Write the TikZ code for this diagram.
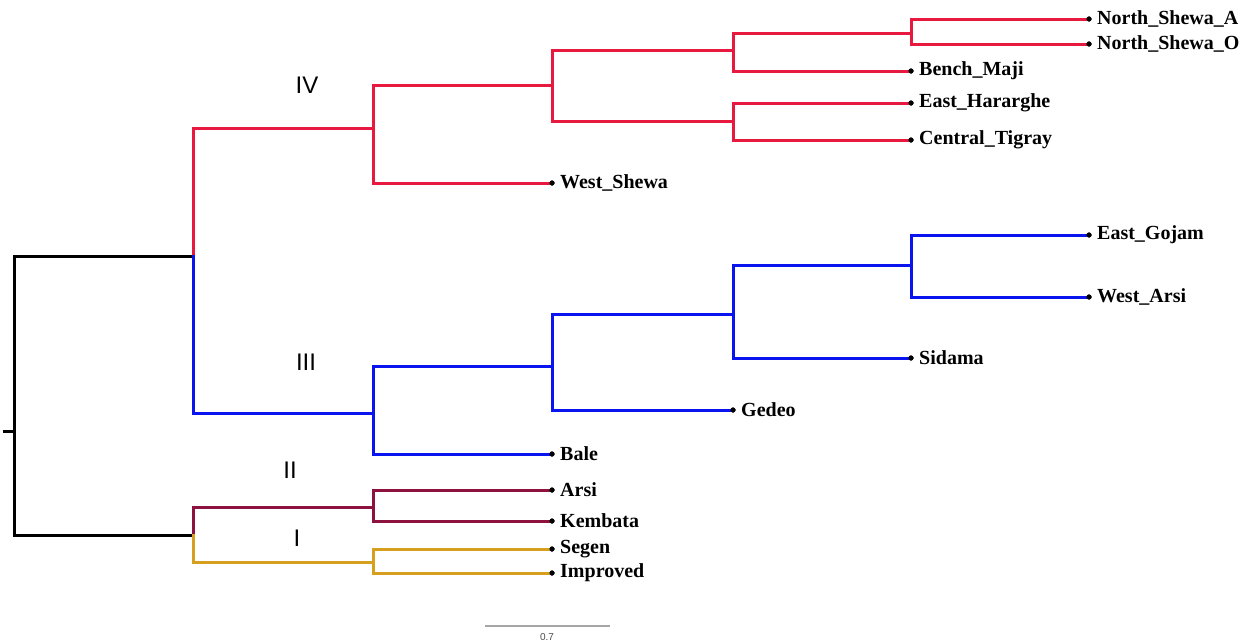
\documentclass[tikz,border=0pt]{standalone}
\usepackage{fontspec}
\setmainfont{Liberation Serif}
\newfontfamily\numfont{Liberation Sans}
\definecolor{cred}{HTML}{E8193F}
\definecolor{cblue}{HTML}{0A14EE}
\definecolor{cmaroon}{HTML}{8E1240}
\definecolor{cgold}{HTML}{D6A01E}
\tikzset{
  br/.style={line width=3pt, line join=miter, line cap=rect},
  tip/.style={circle, fill=black, inner sep=0pt, minimum size=5pt},
  leaf/.style={anchor=west, inner sep=0pt, font=\fontsize{20}{20}\selectfont\bfseries},
  clade/.style={font=\numfont\fontsize{24}{24}\selectfont},
  int/.style={coordinate}
}
\begin{document}
\begin{tikzpicture}[x=1pt,y=-1pt]
\useasboundingbox (0,0) rectangle (1252,643);
% internal nodes
\coordinate (root) at (14,431);
\coordinate (rtick) at (4,431);
\coordinate (nA) at (193,256);
\coordinate (nB) at (193,535);
\coordinate (n4) at (373,128);
\coordinate (n4a) at (552,85);
\coordinate (n4b) at (733,50);
\coordinate (n4c) at (911,33);
\coordinate (n4d) at (733,121);
\coordinate (n3) at (373,413);
\coordinate (n3a) at (552,366);
\coordinate (n3b) at (733,314);
\coordinate (n3c) at (911,265);
\coordinate (n2) at (373,507);
\coordinate (n1) at (373,562);
% tips
\node[tip] (NSA) at (1089,19) {};
\node[tip] (NSO) at (1089,44) {};
\node[tip] (BM) at (911,71) {};
\node[tip] (EH) at (911,103) {};
\node[tip] (CT) at (911,140) {};
\node[tip] (WS) at (552,183) {};
\node[tip] (EG) at (1089,235) {};
\node[tip] (WA) at (1089,297) {};
\node[tip] (SI) at (911,358) {};
\node[tip] (GE) at (733,410) {};
\node[tip] (BA) at (552,454) {};
\node[tip] (AR) at (552,490) {};
\node[tip] (KE) at (552,521) {};
\node[tip] (SE) at (552,549) {};
\node[tip] (IM) at (552,573) {};
% labels
\node[leaf] (lNSA) at ([xshift=8pt]NSA.center) {North\_Shewa\_A};
\node[leaf] (lNSO) at ([xshift=8pt]NSO.center) {North\_Shewa\_O};
\node[leaf] (lBM) at ([xshift=8pt]BM.center) {Bench\_Maji};
\node[leaf] (lEH) at ([xshift=8pt]EH.center) {East\_Hararghe};
\node[leaf] (lCT) at ([xshift=8pt]CT.center) {Central\_Tigray};
\node[leaf] (lWS) at ([xshift=8pt]WS.center) {West\_Shewa};
\node[leaf] (lEG) at ([xshift=8pt]EG.center) {East\_Gojam};
\node[leaf] (lWA) at ([xshift=8pt]WA.center) {West\_Arsi};
\node[leaf] (lSI) at ([xshift=8pt]SI.center) {Sidama};
\node[leaf] (lGE) at ([xshift=8pt]GE.center) {Gedeo};
\node[leaf] (lBA) at ([xshift=8pt]BA.center) {Bale};
\node[leaf] (lAR) at ([xshift=8pt]AR.center) {Arsi};
\node[leaf] (lKE) at ([xshift=8pt]KE.center) {Kembata};
\node[leaf] (lSE) at ([xshift=8pt]SE.center) {Segen};
\node[leaf] (lIM) at ([xshift=8pt]IM.center) {Improved};
% root (black)
\draw[br, black] (rtick) -- (root);
\draw[br, black] (nA) -| (root) |- (nB);
% clade IV (red)
\draw[br, cred] (nA) |- (n4);
\draw[br, cred] (n4a) -| (n4) |- (WS.center);
\draw[br, cred] (n4b) -| (n4a) |- (n4d);
\draw[br, cred] (n4c) -| (n4b) |- (BM.center);
\draw[br, cred] (NSA.center) -| (n4c) |- (NSO.center);
\draw[br, cred] (EH.center) -| (n4d) |- (CT.center);
% clade III (blue)
\draw[br, cblue] (nA) |- (n3);
\draw[br, cblue] (n3a) -| (n3) |- (BA.center);
\draw[br, cblue] (n3b) -| (n3a) |- (GE.center);
\draw[br, cblue] (n3c) -| (n3b) |- (SI.center);
\draw[br, cblue] (EG.center) -| (n3c) |- (WA.center);
% clade II (maroon)
\draw[br, cmaroon] (nB) |- (n2);
\draw[br, cmaroon] (AR.center) -| (n2) |- (KE.center);
% clade I (gold)
\draw[br, cgold] (nB) |- (n1);
\draw[br, cgold] (SE.center) -| (n1) |- (IM.center);
% redraw tips on top
\foreach \t in {NSA,NSO,BM,EH,CT,WS,EG,WA,SI,GE,BA,AR,KE,SE,IM} \fill (\t) circle (2.6pt);
% clade labels
\node[clade] (cIV) at (307,85) {IV};
\node[clade] (cIII) at (306,362) {III};
\node[clade] (cII) at (290,470) {II};
\node[clade] (cI) at (297,538) {I};
% scale bar
\coordinate (sb1) at (485,626);
\coordinate (sb2) at (610,626);
\draw[gray!70, line width=1.3pt] (sb1) -- (sb2);
\node[font=\numfont\fontsize{10}{10}\selectfont, text=gray!60!black] (sbl) at (547,637) {0.7};
\end{tikzpicture}
\end{document}
